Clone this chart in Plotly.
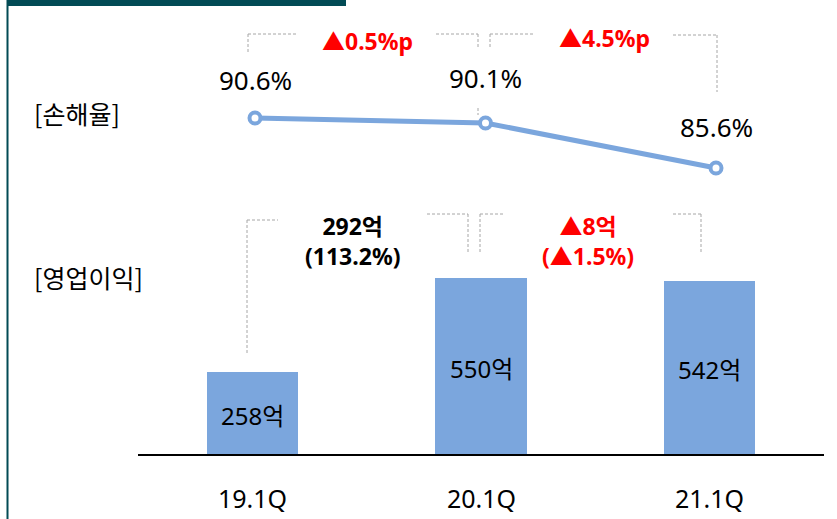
import plotly.graph_objects as go

W, H = 837, 519

# ---- data ----
quarters = ["19.1Q", "20.1Q", "21.1Q"]
loss_ratio = [90.6, 90.1, 85.6]
loss_ratio_labels = ["90.6%", "90.1%", "85.6%"]
op_profit = [258, 550, 542]
op_profit_labels = ["258억", "550억", "542억"]
loss_change_labels = ["▲0.5%p", "▲4.5%p"]
profit_change_labels = ["292억<br>(113.2%)", "▲8억<br>(▲1.5%)"]
row_labels = ["[손해율]", "[영업이익]"]

BLUE = "#7BA6DD"
TEAL = "#024B55"
GRAY = "#A6A6A6"
RED = "#FF0000"
FONT = "Noto Sans, Noto Sans CJK KR"
KFONT = "Noto Sans CJK KR"


def px(x):
    return x / W


def py(y):
    return 1 - y / H


fig = go.Figure()

fig.add_trace(go.Bar(
    x=quarters, y=op_profit, width=0.4,
    marker=dict(color=BLUE, line=dict(width=0)),
    xaxis="x", yaxis="y", showlegend=False, hoverinfo="skip",
))

fig.add_trace(go.Scatter(
    x=quarters, y=loss_ratio, mode="lines+markers",
    line=dict(color=BLUE, width=5),
    marker=dict(size=11, color="white", line=dict(color=BLUE, width=4)),
    xaxis="x2", yaxis="y2", showlegend=False, hoverinfo="skip",
))

annotations = []


def ann(**kw):
    kw.setdefault("showarrow", False)
    kw.setdefault("xanchor", "center")
    kw.setdefault("yanchor", "middle")
    annotations.append(kw)


# bar value labels (inside bars, middle)
for q, v, t in zip(quarters, op_profit, op_profit_labels):
    ann(x=q, y=v / 2, xref="x", yref="y", text=t, yshift=-2,
        font=dict(family=FONT, size=24, color="black"))
# category labels
for q in quarters:
    ann(x=q, y=py(498), xref="x", yref="paper", text=q,
        font=dict(family=FONT, size=25, color="black"))
# loss ratio labels
label_shifts = [38, 45, 41]
for q, v, t, s in zip(quarters, loss_ratio, loss_ratio_labels, label_shifts):
    ann(x=q, y=v, xref="x2", yref="y2", text=t, yshift=s,
        font=dict(family=FONT, size=26, color="black"))
# row labels
ann(x=px(32), y=py(113), xref="paper", yref="paper", text=row_labels[0], xanchor="left",
    font=dict(family=KFONT, size=25, color="black"))
ann(x=px(32), y=py(277), xref="paper", yref="paper", text=row_labels[1], xanchor="left",
    font=dict(family=KFONT, size=25, color="black"))
# change labels
ann(x=px(367), y=py(41), xref="paper", yref="paper", text="<b>" + loss_change_labels[0] + "</b>",
    font=dict(family=FONT, size=23, color=RED))
ann(x=px(604), y=py(38), xref="paper", yref="paper", text="<b>" + loss_change_labels[1] + "</b>",
    font=dict(family=FONT, size=23, color=RED))
ann(x=px(352), y=py(241), xref="paper", yref="paper", text="<b>" + profit_change_labels[0] + "</b>",
    font=dict(family=FONT, size=23, color="black"))
ann(x=px(588), y=py(241), xref="paper", yref="paper", text="<b>" + profit_change_labels[1] + "</b>",
    font=dict(family=FONT, size=23, color=RED))

shapes = []


def seg(x0, y0, x1, y1):
    shapes.append(dict(type="line", xref="paper", yref="paper",
                       x0=px(x0), y0=py(y0), x1=px(x1), y1=py(y1),
                       line=dict(color=GRAY, width=1, dash="3px,2px")))


# loss-ratio brackets
seg(248, 34, 298, 34); seg(248, 34, 248, 52)
seg(436, 34, 478, 34); seg(478, 34, 478, 48)
seg(478, 108, 478, 115)
seg(490, 34, 533, 34); seg(490, 34, 490, 48)
seg(673, 35, 717, 35); seg(717, 35, 717, 92)
# operating-profit brackets
seg(247, 220, 278, 220); seg(247, 220, 247, 355)
seg(427, 214, 468, 214); seg(468, 214, 468, 253)
seg(480, 214, 505, 214); seg(480, 214, 480, 253)
seg(673, 214, 701, 214); seg(701, 214, 701, 253)

# baseline
shapes.append(dict(type="line", xref="paper", yref="y", x0=px(138), x1=px(824), y0=0, y1=0,
                   line=dict(color="black", width=2)))
# frame decorations
shapes.append(dict(type="rect", xref="paper", yref="paper", x0=px(7), x1=px(346), y0=py(6), y1=1,
                   fillcolor=TEAL, line=dict(width=0)))
shapes.append(dict(type="line", xref="paper", yref="paper", x0=px(7.5), x1=px(7.5), y0=0, y1=1,
                   line=dict(color=TEAL, width=2)))

# axis ranges from pixel geometry
bx0, bstep = 252.5, 228.5
lx0, lstep = 255.0, 230.5
base_y, ppu = 455.0, 177.0 / 550.0
ly_ref, lppu = 118.0, 10.0

fig.update_layout(
    width=W, height=H, margin=dict(l=0, r=0, t=0, b=0),
    paper_bgcolor="white", plot_bgcolor="white",
    xaxis=dict(type="category", range=[(0 - bx0) / bstep, (W - bx0) / bstep], visible=False),
    yaxis=dict(range=[-(H - base_y) / ppu, base_y / ppu], visible=False),
    xaxis2=dict(type="category", overlaying="x", range=[(0 - lx0) / lstep, (W - lx0) / lstep], visible=False),
    yaxis2=dict(overlaying="y", range=[90.6 - (H - ly_ref) / lppu, 90.6 + ly_ref / lppu], visible=False),
    annotations=annotations, shapes=shapes, bargap=0,
)

fig.write_html(
    "out.html",
    config={"displayModeBar": False},
    post_script="document.body.style.margin='0';document.body.style.overflow='hidden';",
)
